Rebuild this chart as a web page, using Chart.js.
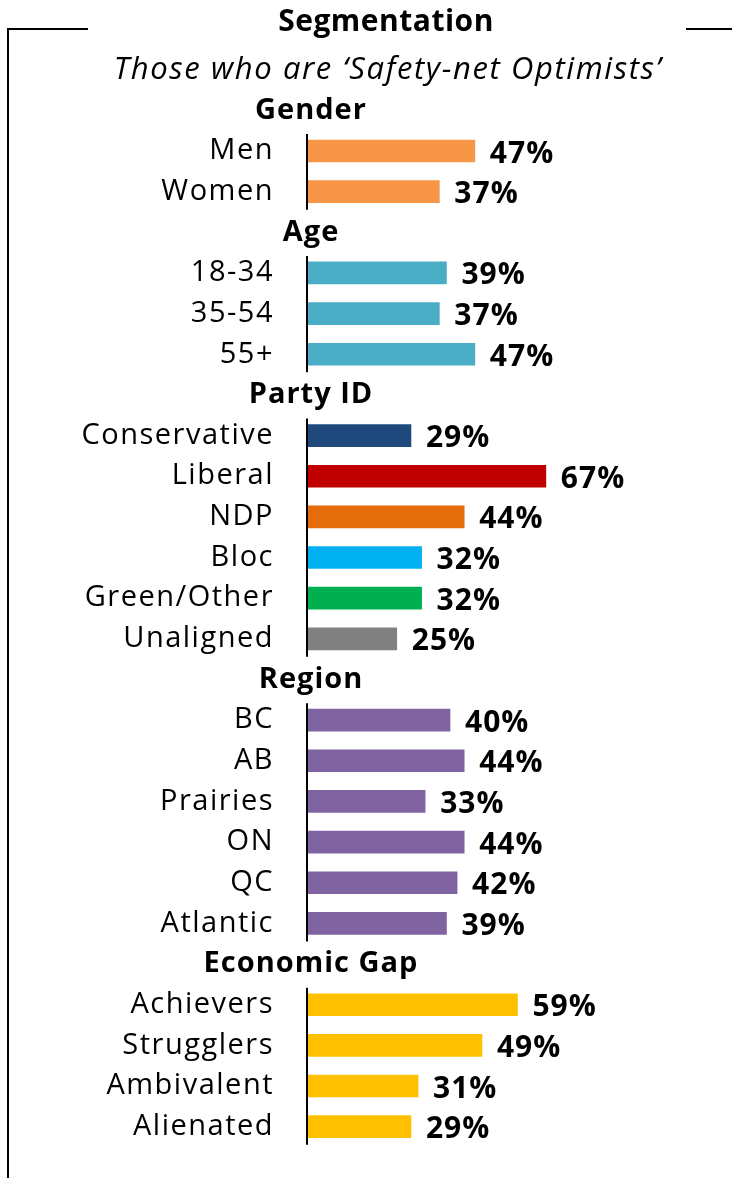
<!DOCTYPE html>
<html>
<head>
<meta charset="utf-8">
<script src="https://cdn.jsdelivr.net/npm/chart.js@4"></script>
<style>
  html, body { margin: 0; background: #fff; }
  #wrap { width: 732px; height: 1178px; }
</style>
</head>
<body>
<div id="wrap"><canvas id="chart" width="732" height="1178"></canvas></div>
<script>
// rows of the chart, section headers have no value
const categories = ['Gender', 'Men', 'Women', 'Age', '18-34', '35-54', '55+', 'Party ID', 'Conservative', 'Liberal', 'NDP', 'Bloc', 'Green/Other', 'Unaligned', 'Region', 'BC', 'AB', 'Prairies', 'ON', 'QC', 'Atlantic', 'Economic Gap', 'Achievers', 'Strugglers', 'Ambivalent', 'Alienated'];
const headers = ['Gender', 'Age', 'Party ID', 'Region', 'Economic Gap'];
const values = [null, 47, 37, null, 39, 37, 47, null, 29, 67, 44, 32, 32, 25, null, 40, 44, 33, 44, 42, 39, null, 59, 49, 31, 29];
const colors = [null, '#F79646', '#F79646', null, '#4BACC6', '#4BACC6', '#4BACC6', null, '#1F497D', '#C00000', '#E46C0A', '#00B0F0', '#00B050', '#808080', null, '#8064A2', '#8064A2', '#8064A2', '#8064A2', '#8064A2', '#8064A2', null, '#FFC000', '#FFC000', '#FFC000', '#FFC000'];

const FONT = '"Open Sans", "Noto Sans", sans-serif';

const labelsPlugin = {
  id: 'labels',
  afterDatasetsDraw(chart) {
    const ctx = chart.ctx;
    const xs = chart.scales.x;
    const ys = chart.scales.y;
    const x0 = xs.getPixelForValue(0);
    ctx.save();
    ctx.fillStyle = '#000';
    ctx.textBaseline = 'middle';

    categories.forEach((cat, i) => {
      const py = ys.getPixelForValue(i);
      if (headers.includes(cat)) {
        ctx.font = 'bold 29px ' + FONT;
        ctx.letterSpacing = '1px';
        ctx.textAlign = 'center';
        ctx.fillText(cat, x0 + 3, py);
        return;
      }
      ctx.font = '29px ' + FONT;
      ctx.letterSpacing = '1.5px';
      ctx.textAlign = 'right';
      ctx.fillText(cat, x0 - 34, py);
      ctx.font = 'bold 30px ' + FONT;
      ctx.letterSpacing = '1px';
      ctx.textAlign = 'left';
      ctx.fillText(values[i] + '%', xs.getPixelForValue(values[i]) + 15, py + 3);
    });

    // axis line for each group
    ctx.strokeStyle = '#000';
    ctx.lineWidth = 2;
    let start = null;
    for (let i = 0; i <= categories.length; i++) {
      const isHead = i === categories.length || headers.includes(categories[i]);
      if (!isHead && start === null) start = i;
      if (isHead && start !== null) {
        ctx.beginPath();
        ctx.moveTo(x0 - 1, ys.getPixelForValue(start) - 17);
        ctx.lineTo(x0 - 1, ys.getPixelForValue(i - 1) + 18);
        ctx.stroke();
        start = null;
      }
    }

    // title, subtitle and frame
    ctx.textAlign = 'center';
    ctx.font = 'bold 30px ' + FONT;
    ctx.letterSpacing = '0.5px';
    ctx.fillText('Segmentation', 386, 22);
    ctx.font = 'italic 31px ' + FONT;
    ctx.letterSpacing = '1.6px';
    ctx.fillText('Those who are \u2018Safety-net Optimists\u2019', 388, 70);

    ctx.lineWidth = 2;
    ctx.beginPath();
    ctx.moveTo(88, 29);
    ctx.lineTo(8, 29);
    ctx.lineTo(8, 1178);
    ctx.moveTo(686, 29);
    ctx.lineTo(732, 29);
    ctx.stroke();
    ctx.restore();
  }
};

new Chart(document.getElementById('chart'), {
  type: 'bar',
  data: {
    labels: categories,
    datasets: [{
      data: values,
      backgroundColor: colors,
      barThickness: 22
    }]
  },
  options: {
    indexAxis: 'y',
    responsive: false,
    animation: false,
    layout: { padding: { left: 308, right: 69, top: 90, bottom: 31 } },
    plugins: {
      legend: { display: false },
      tooltip: { enabled: false }
    },
    scales: {
      x: { min: 0, max: 100, display: false },
      y: { display: false }
    }
  },
  plugins: [labelsPlugin]
});
</script>
</body>
</html>
